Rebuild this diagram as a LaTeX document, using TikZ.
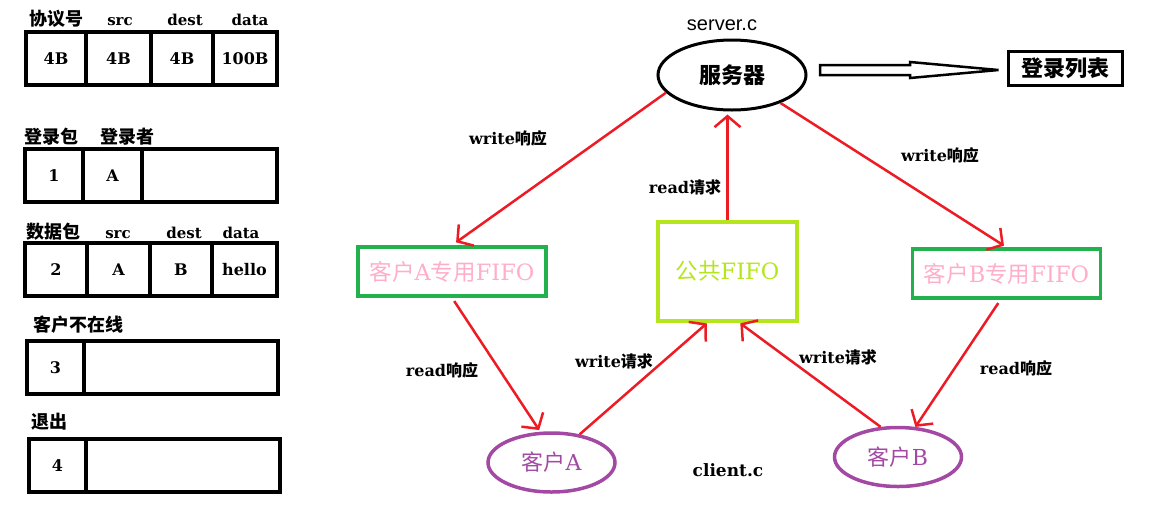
\documentclass[tikz,border=0pt]{standalone}
\usepackage{fontspec}
\setmainfont{DejaVu Serif}
\newfontfamily\cjk{Noto Sans CJK SC}
\newfontfamily\arialfont{Liberation Sans}
\usepackage{tikz}
\usetikzlibrary{shapes,arrows,arrows.meta,positioning,calc}
\definecolor{flowred}{HTML}{ED1C24}
\definecolor{fifogreen}{HTML}{22B14C}
\definecolor{fifopink}{HTML}{FFAEC9}
\definecolor{publime}{HTML}{B5E61D}
\definecolor{clipurple}{HTML}{A349A4}
\tikzstyle{cell} = [draw, line width=3.5pt, rectangle, outer sep=0pt, inner sep=0pt, minimum height=53pt, font=\bfseries\fontsize{16}{19}\selectfont]
\tikzstyle{fieldname} = [anchor=base, font=\bfseries\fontsize{15}{18}\selectfont]
\tikzstyle{pkgname} = [anchor=base, font=\cjk\bfseries\fontsize{18}{21}\selectfont]
\tikzstyle{fifo} = [draw=fifogreen, line width=3.5pt, rectangle, text=fifopink, minimum width=188pt, minimum height=49pt, font=\fontsize{22.5}{26}\selectfont]
\tikzstyle{client} = [draw=clipurple, line width=3.5pt, ellipse, text=clipurple, minimum width=127pt, minimum height=59pt, font=\fontsize{22}{26}\selectfont]
\tikzstyle{flow} = [draw=flowred, line width=2.5pt, -{Straight Barb[length=11pt,width=26pt]}]
\tikzstyle{flowlabel} = [font=\bfseries\fontsize{16}{19}\selectfont]

\begin{document}
\begin{tikzpicture}[x=1pt,y=-1pt]
\useasboundingbox (0,0) rectangle (1154,515);

\node[cell, minimum width=60pt, anchor=north west] (proto1) at (26,32) {4B};
\node[cell, minimum width=65pt, right=0pt of proto1] (proto2) {4B};
\node[cell, minimum width=62pt, right=0pt of proto2] (proto3) {4B};
\node[cell, minimum width=64pt, right=0pt of proto3] (proto4) {100B};
\node[pkgname] (protohead) at (56,25) {协议号};
\node[fieldname] (protosrc) at (120,25) {src};
\node[fieldname] (protodest) at (185,25) {dest};
\node[fieldname] (protodata) at (250,25) {data};

\node[cell, minimum width=58pt, anchor=north west] (login1) at (25,149) {1};
\node[cell, minimum width=59pt, right=0pt of login1] (login2) {A};
\node[cell, minimum width=135pt, right=0pt of login2] (login3) {};
\node[pkgname] (loginhead) at (51,143) {登录包};
\node[pkgname] (loginwho) at (127,143) {登录者};

\node[cell, minimum width=62pt, anchor=north west] (data1) at (25,243) {2};
\node[cell, minimum width=63pt, right=0pt of data1] (data2) {A};
\node[cell, minimum width=62pt, right=0pt of data2] (data3) {B};
\node[cell, minimum width=65pt, right=0pt of data3] (data4) {hello};
\node[pkgname] (datahead) at (54,238) {数据包};
\node[fieldname] (datasrc) at (118,238) {src};
\node[fieldname] (datadest) at (184,238) {dest};
\node[fieldname] (datadata) at (241,238) {data};

\node[cell, minimum width=57pt, anchor=north west] (offline1) at (27,341) {3};
\node[cell, minimum width=194pt, right=0pt of offline1] (offline2) {};
\node[pkgname] (offlinehead) at (78,331) {客户不在线};

\node[cell, minimum width=57pt, anchor=north west] (quit1) at (29,439) {4};
\node[cell, minimum width=194pt, right=0pt of quit1] (quit2) {};
\node[pkgname] (quithead) at (49,428) {退出};

\node[draw, ellipse, line width=3pt, minimum width=148pt, minimum height=70pt, font=\cjk\bfseries\fontsize{22}{26}\selectfont] (server) at (732,75) {服务器};
\node[anchor=base, font=\arialfont\fontsize{20}{24}\selectfont] (servername) at (722,30) {server.c};
\node[draw, line width=3pt, minimum width=114pt, minimum height=34pt, font=\cjk\bfseries\fontsize{22}{26}\selectfont] (loginlist) at (1065,68) {登录列表};
\coordinate (savetail) at (820,70);
\coordinate (savetip) at ($(loginlist.west)+(-8,2)$);
\draw[line width=2.5pt, line join=miter] ($(savetail)+(0,-5)$) -- ($(savetail)+(90,-5)$) -- ($(savetail)+(90,-8)$) -- (savetip)
  -- ($(savetail)+(90,8)$) -- ($(savetail)+(90,5)$) -- ($(savetail)+(0,5)$) -- cycle;

\node[fifo] (fifoA) at (452,271.5) {{\cjk 客户}A{\cjk 专用}FIFO};
\node[fifo, draw=publime, text=publime, minimum width=139pt, minimum height=99pt] (pubfifo) at (727.5,271.5) {{\cjk 公共}FIFO};
\node[fifo] (fifoB) at (1006.5,273.5) {{\cjk 客户}B{\cjk 专用}FIFO};

\node[client] (cliA) at (551.5,462.5) {{\cjk 客户}A};
\node[client] (cliB) at (898,457) {{\cjk 客户}B};
\node[font=\bfseries\fontsize{17}{21}\selectfont] (clientname) at (728,470) {client.c};

\draw[flow, shorten >=5pt] (server.195) -- (fifoA.north);
\draw[flow, shorten >=3pt] (server.-30) -- (fifoB.north);
\draw[flow, shorten >=3pt] (pubfifo.north) -- (pubfifo.north |- server.south);
\draw[flow, shorten <=4pt, shorten >=2pt] (fifoA.south) -- (cliA.110);
\draw[flow, shorten >=1pt] (cliA.45) -- ($(pubfifo.south)+(-20,0)$);
\draw[flow, shorten >=1pt] (cliB.120) -- ($(pubfifo.south)+(12,0)$);
\draw[flow, shorten <=4pt] ($(fifoB.south)+(-6,0)$) -- (cliB.60);

\node[flowlabel] (respA) at (508,138) {write{\cjk 响应}};
\node[flowlabel] (respB) at (940,155) {write{\cjk 响应}};
\node[flowlabel] (reqpub) at (685,187) {read{\cjk 请求}};
\node[flowlabel] (readA) at (442,370) {read{\cjk 响应}};
\node[flowlabel] (writeA) at (614,361) {write{\cjk 请求}};
\node[flowlabel] (writeB) at (838,357) {write{\cjk 请求}};
\node[flowlabel] (readB) at (1016,368) {read{\cjk 响应}};
\end{tikzpicture}
\end{document}
